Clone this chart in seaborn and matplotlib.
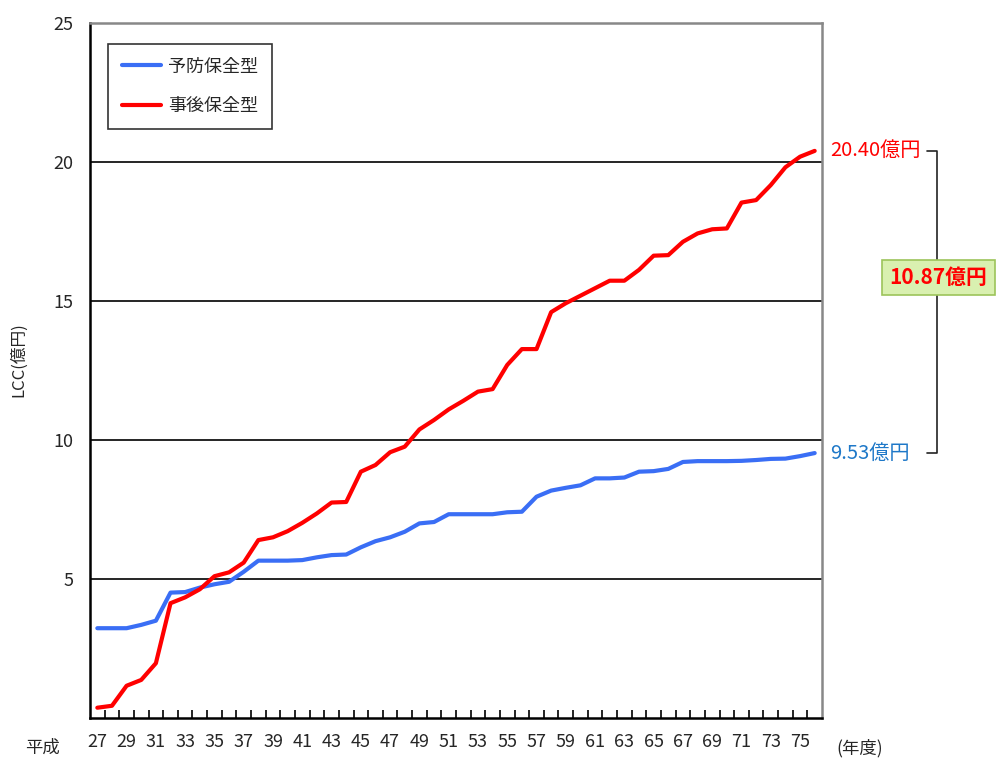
import matplotlib
matplotlib.use("Agg")
import matplotlib.pyplot as plt
import matplotlib.transforms as mtransforms
from matplotlib.lines import Line2D
import seaborn as sns
import pandas as pd

# ---- data ----
years = [27, 28, 29, 30, 31, 32, 33, 34, 35, 36, 37, 38, 39, 40, 41, 42, 43, 44, 45, 46,
         47, 48, 49, 50, 51, 52, 53, 54, 55, 56, 57, 58, 59, 60, 61, 62, 63, 64, 65, 66,
         67, 68, 69, 70, 71, 72, 73, 74, 75, 76]
preventive = [3.23, 3.23, 3.23, 3.35, 3.50, 4.51, 4.53, 4.69, 4.81, 4.90,
              5.26, 5.66, 5.66, 5.66, 5.68, 5.78, 5.86, 5.88, 6.14, 6.36,
              6.50, 6.70, 7.00, 7.05, 7.33, 7.33, 7.33, 7.33, 7.40, 7.42,
              7.96, 8.18, 8.28, 8.37, 8.62, 8.62, 8.65, 8.86, 8.88, 8.96,
              9.21, 9.24, 9.24, 9.24, 9.25, 9.28, 9.32, 9.33, 9.42, 9.53]
corrective = [0.37, 0.44, 1.16, 1.37, 1.97, 4.13, 4.34, 4.63, 5.10, 5.24,
              5.59, 6.40, 6.50, 6.72, 7.02, 7.36, 7.75, 7.77, 8.86, 9.10,
              9.56, 9.76, 10.38, 10.72, 11.10, 11.41, 11.74, 11.83, 12.70, 13.27,
              13.27, 14.60, 14.92, 15.19, 15.46, 15.73, 15.73, 16.12, 16.63, 16.65,
              17.13, 17.43, 17.58, 17.61, 18.54, 18.63, 19.17, 19.81, 20.19, 20.40]
series_names = ["予防保全型", "事後保全型"]
yticks = [5, 10, 15, 20, 25]
xtick_years = [27, 29, 31, 33, 35, 37, 39, 41, 43, 45, 47, 49, 51, 53, 55, 57, 59,
               61, 63, 65, 67, 69, 71, 73, 75]
end_labels = ["20.40億円", "9.53億円"]
diff_label = "10.87億円"

df = pd.DataFrame({
    "year": years * 2,
    "value": preventive + corrective,
    "type": [series_names[0]] * len(years) + [series_names[1]] * len(years),
})

sns.set_theme(style="white")
plt.rcParams["font.family"] = ["Noto Sans CJK JP", "DejaVu Sans"]
plt.rcParams["xtick.bottom"] = True

fig = plt.figure(figsize=(9.99, 7.58), dpi=100)
ax = fig.add_axes([90 / 999, 1 - 718 / 758, 732 / 999, 695 / 758])

palette = {series_names[0]: "#3A6EF5", series_names[1]: "#FF0000"}
sns.lineplot(data=df, x="year", y="value", hue="type", palette=palette,
             linewidth=3.0, ax=ax, legend=False)

ax.set_xlim(years[0] - 0.5, years[-1] + 0.5)
ax.set_ylim(0, 25)
ax.set_yticks(yticks)
ax.set_yticklabels([str(v) for v in yticks], fontsize=13)
ax.set_xticks(xtick_years)
ax.set_xticklabels([str(v) for v in xtick_years], fontsize=13)
ax.set_xticks([y + 0.5 for y in years[:-1]], minor=True)
ax.tick_params(axis="x", which="major", length=0, pad=11, bottom=True)
ax.tick_params(axis="x", which="minor", length=6, width=1.2, direction="in",
               color="black", bottom=True)
ax.tick_params(axis="y", which="major", length=0, pad=12)
ax.set_xlabel("")
ax.set_ylabel("LCC(億円)", fontsize=12)
ax.yaxis.set_label_coords(-0.086, 0.515)

ax.grid(False)
for v in yticks[:-1]:
    ax.axhline(v, color="black", linewidth=1.2, zorder=0)

for side in ["left", "bottom"]:
    ax.spines[side].set_color("black")
    ax.spines[side].set_linewidth(1.8)
for side in ["top", "right"]:
    ax.spines[side].set_color("#888888")
    ax.spines[side].set_linewidth(1.8)

# legend
handles = [Line2D([0], [0], color=palette[n], linewidth=3.0) for n in series_names]
leg = ax.legend(handles, series_names, loc="upper left",
                bbox_to_anchor=(0.0246, 0.9698), fontsize=13, frameon=True,
                fancybox=False, edgecolor="black", handlelength=2.2,
                labelspacing=1.2, borderpad=0.75, handletextpad=0.4,
                borderaxespad=0)
leg.get_frame().set_linewidth(1.2)

# annotations on the right
trans = mtransforms.blended_transform_factory(ax.transAxes, ax.transData)
ax.text(1.011, corrective[-1], end_labels[0], color="#FF0000", fontsize=14.5,
        ha="left", va="center", transform=trans, clip_on=False)
ax.text(1.011, preventive[-1], end_labels[1], color="#1E78C8", fontsize=14.5,
        ha="left", va="center", transform=trans, clip_on=False)
bx0, bx1 = 1.143, 1.157
ax.plot([bx0, bx1, bx1, bx0], [corrective[-1], corrective[-1], preventive[-1], preventive[-1]],
        color="#222222", linewidth=1.2, transform=trans, clip_on=False)
ax.text(1.159, 15.85, diff_label, color="#FF0000", fontsize=15, fontweight="bold",
        ha="center", va="center", transform=trans, clip_on=False,
        bbox=dict(boxstyle="square,pad=0.35", facecolor="#D9F0B0",
                  edgecolor="#9CC45A", linewidth=1.2))

fig.text(42 / 999, 1 - 748 / 758, "平成", fontsize=12.5, ha="center", va="center")
fig.text(860 / 999, 1 - 748 / 758, "(年度)", fontsize=12.5, ha="center", va="center")

fig.savefig("out.png", dpi=100)
